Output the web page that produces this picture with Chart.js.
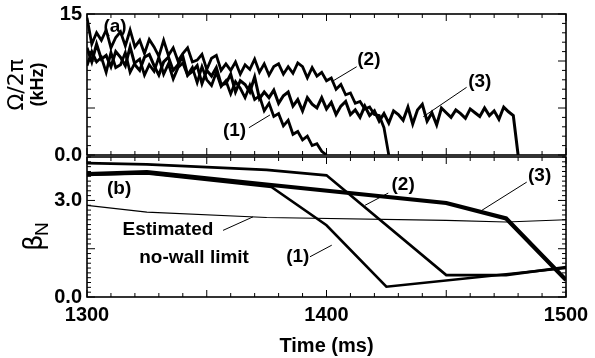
<!DOCTYPE html>
<html>
<head>
<meta charset="utf-8">
<script src="https://cdn.jsdelivr.net/npm/chart.js"></script>
<style>
  body { margin: 0; background: #fff; }
  #wrap { position: relative; width: 595px; height: 358px; }
  .panel { position: absolute; left: 0; width: 595px; }
  #topBox { top: 0; height: 172px; }
  #bottomBox { top: 150px; height: 208px; }
</style>
</head>
<body>
<div id="wrap">
  <div class="panel" id="topBox"><canvas id="top"></canvas></div>
  <div class="panel" id="bottomBox"><canvas id="bottom"></canvas></div>
</div>
<script>
// panel (a): rotation frequency, kHz, sampled every 2 ms
const timeA = [
  1300, 1302, 1304, 1306, 1308, 1310, 1312, 1314, 1316, 1318,
  1320, 1322, 1324, 1326, 1328, 1330, 1332, 1334, 1336, 1338,
  1340, 1342, 1344, 1346, 1348, 1350, 1352, 1354, 1356, 1358,
  1360, 1362, 1364, 1366, 1368, 1370, 1372, 1374, 1376, 1378,
  1380, 1382, 1384, 1386, 1388, 1390, 1392, 1394, 1396, 1398,
  1400, 1402, 1404, 1406, 1408, 1410, 1412, 1414, 1416, 1418,
  1420, 1422, 1424, 1426, 1428, 1430, 1432, 1434, 1436, 1438,
  1440, 1442, 1444, 1446, 1448, 1450, 1452, 1454, 1456, 1458,
  1460, 1462, 1464, 1466, 1468, 1470, 1472, 1474, 1476, 1478,
  1480
];
const omega1 = [
  9.5, 11.0, 9.9, 10.4, 8.8, 10.9, 9.3, 9.6, 10.9, 8.8,
  9.8, 10.2, 8.5, 9.6, 8.9, 10.4, 8.6, 9.7, 8.1, 9.3,
  9.8, 8.5, 9.3, 7.7, 9.4, 8.0, 7.4, 8.8, 7.3, 7.9,
  6.5, 7.8, 7.1, 6.1, 7.4, 5.9, 6.3, 4.7, 5.5, 4.1,
  4.4, 3.1, 3.7, 2.2, 2.5, 1.6, 2.0, 1.0, 1.2, 0.4,
  0
];
const omega2 = [
  14.6, 11.8, 13.0, 12.2, 13.3, 11.4, 12.5, 13.1, 11.6, 13.3,
  11.5, 12.2, 10.8, 12.3, 11.5, 10.5, 12.2, 10.6, 11.4, 10.0,
  10.8, 11.4, 9.9, 10.1, 10.7, 9.1, 10.3, 10.6, 9.0, 9.7,
  9.0, 9.9, 8.6, 9.6, 9.1, 10.2, 8.8, 9.7, 8.5, 9.4,
  9.7, 8.6, 9.4, 8.7, 9.8, 9.4, 8.2, 9.3, 8.4, 8.8,
  7.9, 8.2, 7.0, 7.5, 6.4, 6.6, 5.5, 5.7, 4.9, 5.1,
  4.3, 4.2, 2.9, 0
];
const omega3 = [
  11.4, 9.9, 11.8, 10.2, 10.6, 9.4, 11.0, 10.4, 9.5, 11.5,
  9.6, 9.0, 10.4, 10.7, 9.5, 8.5, 9.9, 10.4, 9.0, 9.6,
  10.5, 8.5, 8.9, 9.5, 7.6, 9.0, 8.4, 9.3, 7.5, 7.6,
  8.6, 6.7, 7.9, 7.5, 6.7, 8.3, 6.0, 6.7, 6.1, 6.9,
  5.5, 6.3, 6.7, 5.2, 5.9, 4.7, 6.1, 5.4, 5.0, 6.1,
  4.9, 5.6, 4.3, 5.2, 5.7, 4.3, 4.8, 4.0, 5.2, 4.2,
  4.7, 3.6, 4.4, 3.4, 4.7, 4.3, 3.7, 5.1, 3.3, 4.8,
  5.4, 3.6, 4.5, 3.2, 5.0, 4.5, 4.0, 4.8, 4.4, 3.9,
  4.9, 4.5, 4.1, 5.0, 4.2, 4.7, 3.8, 5.1, 4.6, 4.2,
  0
];

// panel (b): beta_N
const beta1Time = [1300, 1325, 1377, 1400, 1425, 1500];
const beta1 = [3.80, 3.84, 3.42, 2.23, 0.32, 0.90];
const beta2Time = [1300, 1325, 1375, 1400, 1450, 1475, 1500];
const beta2 = [4.16, 4.12, 3.95, 3.78, 0.68, 0.68, 0.93];
const beta3Time = [1300, 1325, 1377, 1450, 1475, 1500];
const beta3 = [3.82, 3.88, 3.48, 2.92, 2.44, 0.53];
const limitTime = [1300, 1325, 1375, 1450, 1475, 1500];
const limitBeta = [2.85, 2.64, 2.47, 2.38, 2.33, 2.40];

const xTicks = [1300, 1400, 1500];
const yTicksA = [0, 15];
const yTicksB = [0, 3];

const pts = (xs, ys) => ys.map((v, i) => ({ x: xs[i], y: v }));

const FONT = "'Liberation Sans', Arial, sans-serif";
const tickFont = { family: FONT, size: 20, weight: 'bold' };

// frame with inward minor/major ticks on all four sides
const frameTicks = {
  id: 'frameTicks',
  afterDatasetsDraw(chart, args, opts) {
    const { ctx, chartArea: a } = chart;
    const x = chart.scales.x, y = chart.scales.y;
    ctx.save();
    ctx.strokeStyle = '#000';
    ctx.lineWidth = 1.6;
    ctx.strokeRect(a.left, a.top, a.right - a.left, a.bottom - a.top);
    ctx.lineWidth = 1;
    ctx.beginPath();
    const nx = Math.round((x.max - x.min) / opts.xMinor);
    for (let i = 0; i <= nx; i++) {
      const px = x.getPixelForValue(x.min + i * opts.xMinor);
      const len = i % opts.xEvery === 0 ? 7 : 4;
      ctx.moveTo(px, a.bottom); ctx.lineTo(px, a.bottom - len);
      ctx.moveTo(px, a.top); ctx.lineTo(px, a.top + len);
    }
    const ny = Math.floor((y.max - y.min) / opts.yMinor + 1e-6);
    for (let i = 0; i <= ny; i++) {
      const py = y.getPixelForValue(y.min + i * opts.yMinor);
      const len = i % opts.yEvery === 0 ? 8 : 4;
      ctx.moveTo(a.left, py); ctx.lineTo(a.left + len, py);
      ctx.moveTo(a.right, py); ctx.lineTo(a.right - len, py);
    }
    ctx.stroke();
    ctx.restore();
  }
};

// curve labels, pointer lines and rotated axis titles
const notes = {
  id: 'notes',
  afterDraw(chart, args, opts) {
    const { ctx, chartArea: a } = chart;
    const x = chart.scales.x, y = chart.scales.y;
    ctx.save();
    ctx.fillStyle = '#000';
    ctx.strokeStyle = '#000';
    ctx.lineWidth = 1;
    ctx.textAlign = 'center';
    ctx.textBaseline = 'middle';
    ctx.font = `bold 19px ${FONT}`;
    (opts.labels || []).forEach(l => {
      ctx.fillText(l.text, x.getPixelForValue(l.t), y.getPixelForValue(l.v));
    });
    ctx.beginPath();
    (opts.pointers || []).forEach(p => {
      ctx.moveTo(x.getPixelForValue(p[0]), y.getPixelForValue(p[1]));
      ctx.lineTo(x.getPixelForValue(p[2]), y.getPixelForValue(p[3]));
    });
    ctx.stroke();
    (opts.titles || []).forEach(t => {
      ctx.save();
      ctx.translate(a.left + t.dx, (a.top + a.bottom) / 2 + t.dy);
      ctx.rotate(-Math.PI / 2);
      t.parts.forEach(p => {
        ctx.font = p.font;
        ctx.textAlign = 'left';
        ctx.textBaseline = 'alphabetic';
        ctx.fillText(p.text, p.x, p.y);
      });
      ctx.restore();
    });
    ctx.restore();
  }
};

const xScale = (display) => ({
  type: 'linear', min: 1300, max: 1500, display,
  afterBuildTicks: s => { s.ticks = xTicks.map(v => ({ value: v })); },
  ticks: { font: tickFont, color: '#000', padding: 6, maxRotation: 0,
           callback: v => String(v) },
  grid: { display: false, drawTicks: false },
  border: { display: false },
  title: { display: display, text: 'Time (ms)', color: '#000',
           font: { family: FONT, size: 20, weight: 'bold' }, padding: { top: 0, bottom: 0 } },
  afterFit: s => {
    s.height = display ? 61 : 0;
    s.paddingLeft = 0; s.paddingRight = 0;
  }
});

const yFit = s => {
  s.width = 87;
  s.paddingTop = 0; s.paddingBottom = 0;
};

const line = (data, w) => ({
  data, borderColor: '#000', backgroundColor: '#000', borderWidth: w,
  pointRadius: 0, tension: 0, fill: false
});

new Chart(document.getElementById('top'), {
  type: 'line',
  data: {
    datasets: [
      line(pts(timeA, omega1), 2.8),
      line(pts(timeA, omega2), 2.8),
      line(pts(timeA, omega3), 3)
    ]
  },
  options: {
    responsive: true,
    maintainAspectRatio: false,
    animation: false,
    layout: { padding: { top: 14, right: 29, bottom: 17, left: 0 } },
    scales: {
      x: xScale(false),
      y: {
        min: 0, max: 15,
        afterBuildTicks: s => { s.ticks = yTicksA.map(v => ({ value: v })); },
        ticks: { font: tickFont, color: '#000', padding: 5,
                 callback: v => v === 0 ? '0.0' : String(v) },
        grid: { display: false, drawTicks: false },
        border: { display: false },
        afterFit: yFit
      }
    },
    plugins: {
      legend: { display: false },
      tooltip: { enabled: false },
      frameTicks: { xMinor: 10, xEvery: 5, yMinor: 1, yEvery: 5 },
      notes: {
        labels: [
          { t: 1311.7, v: 13.6, text: '(a)' },
          { t: 1361.6, v: 2.55, text: '(1)' },
          { t: 1417.7, v: 10.1, text: '(2)' },
          { t: 1464.0, v: 7.77, text: '(3)' }
        ],
        pointers: [
          [1367.6, 2.9, 1376.4, 4.26],
          [1412.6, 9.39, 1402.2, 7.8],
          [1458.5, 7.2, 1440.4, 4.07]
        ],
        titles: [{
          dx: -62, dy: 0,
          parts: [
            { text: 'Ω/2π', x: -26, y: -2, font: "22px 'DejaVu Sans', sans-serif" },
            { text: '(kHz)', x: -22, y: 18, font: `bold 18px ${FONT}` }
          ]
        }]
      }
    }
  },
  plugins: [frameTicks, notes]
});

new Chart(document.getElementById('bottom'), {
  type: 'line',
  data: {
    datasets: [
      line(pts(beta1Time, beta1), 2.6),
      line(pts(beta2Time, beta2), 2.6),
      line(pts(beta3Time, beta3), 4.2),
      line(pts(limitTime, limitBeta), 1.2)
    ]
  },
  options: {
    responsive: true,
    maintainAspectRatio: false,
    animation: false,
    layout: { padding: { top: 7, right: 29, bottom: 0, left: 0 } },
    scales: {
      x: xScale(true),
      y: {
        min: 0, max: 4.35,
        afterBuildTicks: s => { s.ticks = yTicksB.map(v => ({ value: v })); },
        ticks: { font: tickFont, color: '#000', padding: 5,
                 callback: v => v.toFixed(1) },
        grid: { display: false, drawTicks: false },
        border: { display: false },
        afterFit: yFit
      }
    },
    plugins: {
      legend: { display: false },
      tooltip: { enabled: false },
      frameTicks: { xMinor: 10, xEvery: 5, yMinor: 0.15, yEvery: 10 },
      notes: {
        labels: [
          { t: 1313.4, v: 3.37, text: '(b)' },
          { t: 1432.0, v: 3.50, text: '(2)' },
          { t: 1489.0, v: 3.78, text: '(3)' },
          { t: 1388.0, v: 1.24, text: '(1)' },
          { t: 1333.8, v: 2.10, text: 'Estimated' },
          { t: 1344.7, v: 1.22, text: 'no-wall limit' }
        ],
        pointers: [
          [1425.8, 3.23, 1416.1, 2.85],
          [1483.6, 3.57, 1464.8, 2.69],
          [1393.1, 1.25, 1402.2, 1.61],
          [1356.8, 2.07, 1369.3, 2.49]
        ],
        titles: [{
          dx: -45, dy: 10,
          parts: [
            { text: 'β', x: -14, y: 0, font: "26px 'DejaVu Sans', sans-serif" },
            { text: 'N', x: 1, y: 6, font: `19px ${FONT}` }
          ]
        }]
      }
    }
  },
  plugins: [frameTicks, notes]
});
</script>
</body>
</html>
